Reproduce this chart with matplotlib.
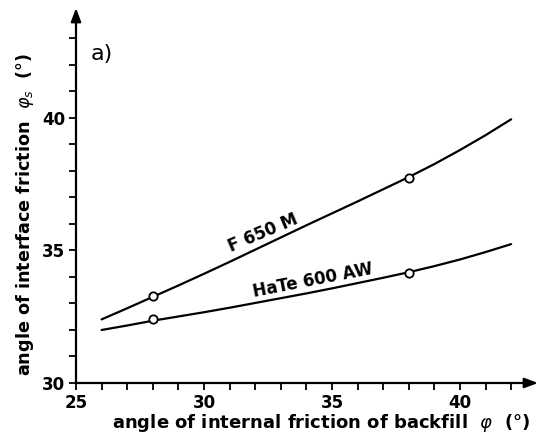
import matplotlib
matplotlib.use("Agg")
import matplotlib.pyplot as plt
import numpy as np

# data
x_curve = [26, 27, 28, 29, 30, 31, 32, 33, 34, 35, 36, 37, 38, 39, 40, 41, 42]
f650m_curve = [32.40, 32.82, 33.25, 33.68, 34.12, 34.57, 35.03, 35.49, 35.95, 36.40,
               36.85, 37.31, 37.77, 38.26, 38.79, 39.35, 39.95]
hate600aw_curve = [32.00, 32.17, 32.35, 32.51, 32.67, 32.84, 33.02, 33.20, 33.38, 33.57,
                   33.77, 33.97, 34.18, 34.41, 34.66, 34.94, 35.24]
x_points = [28, 38]
f650m_points = [33.3, 37.75]
hate600aw_points = [32.4, 34.15]
x_ticks = [25, 30, 35, 40]
y_ticks = [30, 35, 40]

plt.rcParams['font.family'] = ['DejaVu Sans']

fig = plt.figure(figsize=(5.39, 4.38), dpi=100)
ax = fig.add_axes([76/539, 1-383/438, 462/539, 375/438])
ax.set_xlim(25, 43.05)
ax.set_ylim(30, 44.15)

for s in ax.spines.values():
    s.set_visible(False)

lw = 1.6
# axes with arrows
ax.annotate('', xy=(1.0, 0), xytext=(0, 0), xycoords='axes fraction',
            arrowprops=dict(arrowstyle='-|>,head_length=0.8,head_width=0.3', lw=lw, color='black',
                            shrinkA=0, shrinkB=0))
ax.annotate('', xy=(0, 1.0), xytext=(0, 0), xycoords='axes fraction',
            arrowprops=dict(arrowstyle='-|>,head_length=0.8,head_width=0.3', lw=lw, color='black',
                            shrinkA=0, shrinkB=0))

ax.set_xticks(x_ticks)
ax.set_yticks(y_ticks)
ax.set_xticks(np.arange(25, 43, 1), minor=True)
ax.set_yticks(np.arange(30, 44, 1), minor=True)
ax.tick_params(which='both', direction='out', width=1.3, color='black')
ax.tick_params(which='major', length=5, labelsize=12, pad=3)
ax.tick_params(which='minor', length=5)
for lab in ax.get_xticklabels() + ax.get_yticklabels():
    lab.set_fontweight('bold')

ax.plot(x_curve, f650m_curve, color='black', lw=lw, solid_capstyle='round')
ax.plot(x_curve, hate600aw_curve, color='black', lw=lw, solid_capstyle='round')
ax.plot(x_points, f650m_points, 'o', ms=6, mfc='white', mec='black', mew=1.3)
ax.plot(x_points, hate600aw_points, 'o', ms=6, mfc='white', mec='black', mew=1.3)

ax.text(32.3, 35.65, 'F 650 M', rotation=23, fontsize=12, fontweight='bold',
        ha='center', va='center')
ax.text(34.26, 33.88, 'HaTe 600 AW', rotation=11, fontsize=12, fontweight='bold',
        ha='center', va='center')
ax.text(26.0, 42.4, 'a)', fontsize=16, ha='center', va='center')

ax.set_xlabel('angle of internal friction of backfill  $\\varphi$  (°)', fontsize=13,
              fontweight='bold', labelpad=0, x=0.53)
ax.set_ylabel('angle of interface friction  $\\varphi_s$  (°)', fontsize=12.7,
              fontweight='bold', labelpad=4, y=0.45)

fig.savefig('out.png', dpi=100)
